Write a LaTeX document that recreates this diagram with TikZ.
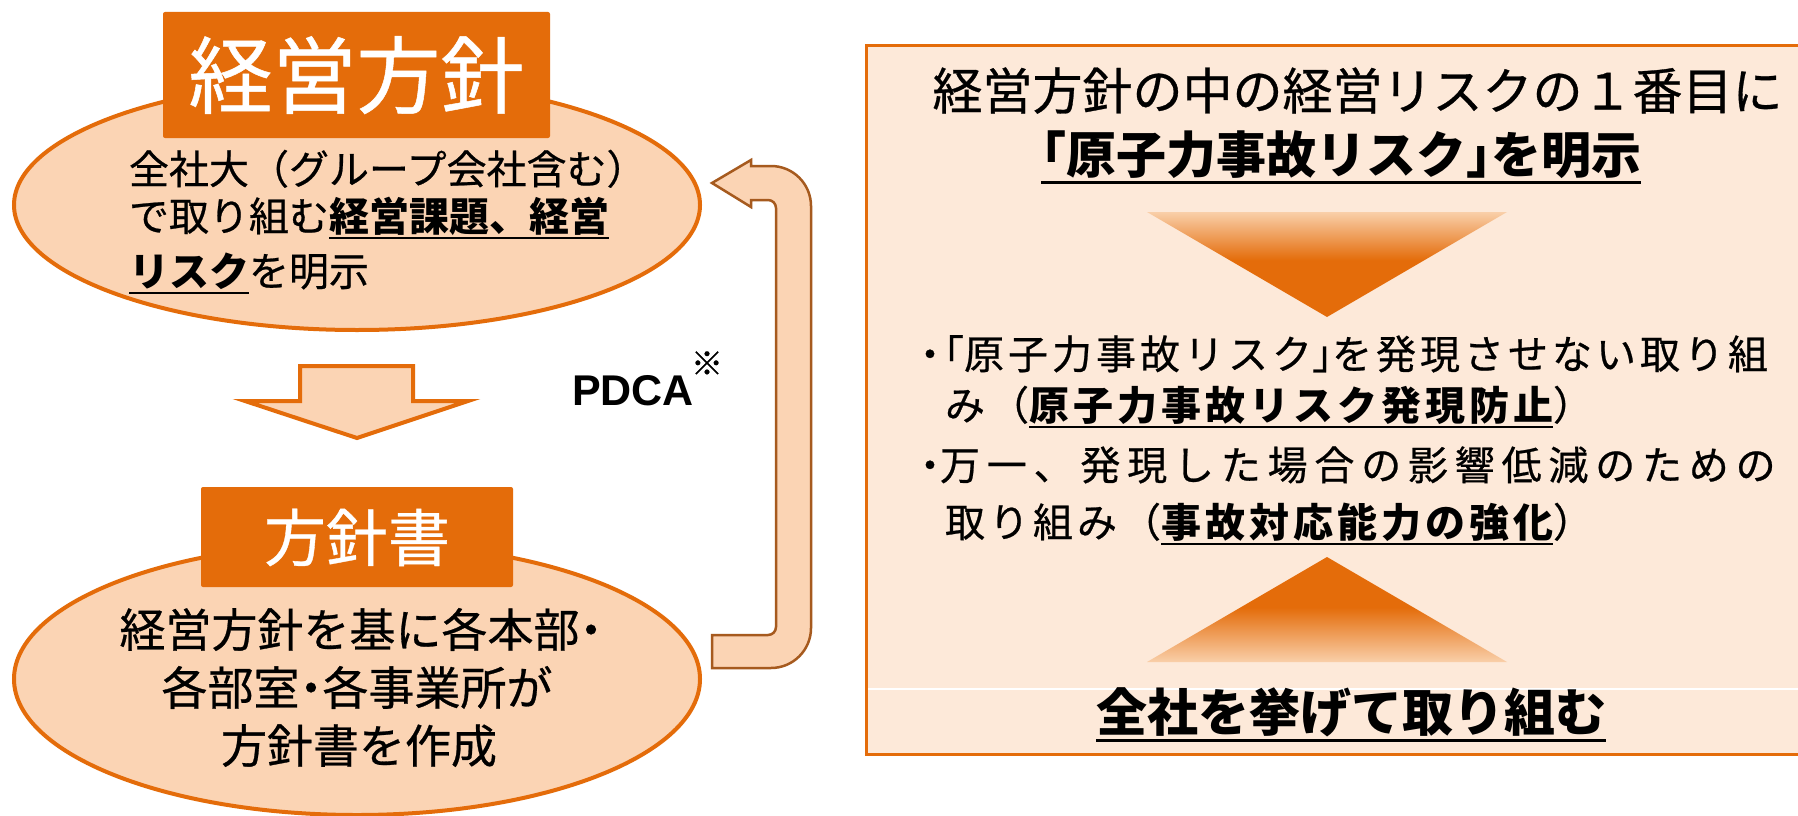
\documentclass[tikz,border=0pt]{standalone}
\usepackage{fontspec}
\usetikzlibrary{shapes.geometric}
\newfontfamily\jp[UprightFeatures={FakeBold=0.6}]{Noto Sans CJK JP}
\newfontfamily\jpls[LetterSpace=10,UprightFeatures={FakeBold=0.6}]{Noto Sans CJK JP}
\newfontfamily\jplsb[LetterSpace=17,UprightFeatures={FakeBold=0.6}]{Noto Sans CJK JP}
\newfontfamily\arialf{Liberation Sans}
\newcommand\fs[1]{\fontsize{#1pt}{#1pt}\selectfont}
\newcommand\hw[1]{{\addfontfeature{CharacterWidth=AlternateHalf}#1}}
\newcommand\ulx[1]{\setbox0=\hbox{#1}\rlap{\rule[-0.21em]{\wd0}{0.07em}}\box0}
\definecolor{orA}{HTML}{E46C0A}
\definecolor{peach}{HTML}{FBD4B4}
\definecolor{panelc}{HTML}{FDE9D9}
\definecolor{brownA}{HTML}{A65A1E}
\definecolor{triL}{HTML}{F9CFA9}
\pgfdeclareverticalshading{tridown}{100bp}{color(0bp)=(orA); color(52bp)=(orA); color(75bp)=(triL); color(100bp)=(triL)}
\pgfdeclareverticalshading{triup}{100bp}{color(0bp)=(triL); color(25bp)=(triL); color(51bp)=(orA); color(100bp)=(orA)}
\tikzset{
  ell/.style={ellipse, draw=orA, line width=4pt, fill=peach, inner sep=0pt},
  titlebox/.style={rectangle, rounded corners=2pt, fill=orA, inner sep=0pt},
  txt/.style={inner sep=0pt, outer sep=0pt, text=black},
  blockarrow/.style={fill=peach, draw=orA, line width=4pt, line join=miter},
  looparrow/.style={fill=peach, draw=brownA, line width=2.5pt, line join=miter},
}
\begin{document}
\begin{tikzpicture}[x=1pt,y=-1pt]
\useasboundingbox (0,0) rectangle (1798,816);
\clip (0,0) rectangle (1798,816);
\fill[white] (0,0) rectangle (1798,816);

% ---------- left column ----------
\node[ell, minimum width=686pt, minimum height=250pt] (e1) at (357,205) {};
\node[titlebox, minimum width=387pt, minimum height=126pt] (t1) at (356.5,75) {};
\node[txt, anchor=base, font=\jp\fs{84}, text=white] (t1txt) at (356.5,107) {経営方針};

\node[txt, anchor=base west, font=\jp\fs{40}] (e1l1) at (129,184) {全社大（グループ会社含む）};
\node[txt, anchor=base west, font=\jp\fs{40}] (e1l2) at (129,231) {で取り組む\ulx{\bfseries 経営課題、経営}};
\node[txt, anchor=base west, font=\jp\fs{40}] (e1l3) at (129,286) {\ulx{\bfseries リスク}を明示};

\draw[blockarrow] (300,366) -- (413,366) -- (413,401) -- (468,401) -- (357,438) -- (245,401) -- (300,401) -- cycle;

\node[ell, minimum width=686pt, minimum height=272pt] (e2) at (357,679) {};
\node[titlebox, minimum width=312pt, minimum height=100pt] (t2) at (357,537) {};
\node[txt, anchor=base, font=\jp\fs{62}, text=white] (t2txt) at (357,561) {方針書};

\node[txt, anchor=base, font=\jp\fs{46}] (e2l1) at (361,647) {経営方針を基に各本部\hw{・}};
\node[txt, anchor=base, font=\jp\fs{46}] (e2l2) at (357,705) {各部室\hw{・}各事業所が};
\node[txt, anchor=base, font=\jp\fs{46}] (e2l3) at (359,763) {方針書を作成};

% ---------- PDCA loop ----------
\draw[looparrow] (712,183) -- (751,160) -- (751,166) -- (771,166)
  .. controls (793.1,166) and (811,183.9) .. (811,206) -- (811,628)
  .. controls (811,650.1) and (793.1,668) .. (771,668) -- (712,668) -- (712,635) -- (768,635)
  .. controls (772.4,635) and (776,631.4) .. (776,627) -- (776,208)
  .. controls (776,203.6) and (772.4,200) .. (768,200) -- (751,200) -- (751,207) -- cycle;
\node[txt, anchor=base west, font=\arialf\bfseries\fs{43}] (pdca) at (572,405) {PDCA};
\node[txt, anchor=base, font=\jp\fs{32}] (note) at (707,375) {※};

% ---------- right panel ----------
\draw[fill=panelc, draw=orA, line width=3.5pt] (866.5,45.5) rectangle (1815,754.5);
\draw[white, line width=1.2pt] (868,689) -- (1798,689);

\node[txt, anchor=base, font=\jp\fs{50}] (p1) at (1357.5,109.5) {経営方針の中の経営リスクの１番目に};
\node[txt, anchor=base, font=\jp\bfseries\fs{50}] (p2) at (1341,173.5) {\ulx{\hw{「}原子力事故リスク\hw{」}を明示}};

\shade[shading=tridown] (1147,212) -- (1507,212) -- (1327,317) -- cycle;

\node[txt, anchor=base west, font=\jpls\fs{40}] (b1) at (920,369) {\hw{・}\hw{「}原子力事故リスク\hw{」}を発現させない取り組};
\node[txt, anchor=base west, font=\jpls\fs{40}] (b2) at (945,420) {み（\ulx{\bfseries 原子力事故リスク発現防止}）};
\node[txt, anchor=base west, font=\jplsb\fs{40}] (b3) at (920,480) {\hw{・}万一、発現した場合の影響低減のための};
\node[txt, anchor=base west, font=\jpls\fs{40}] (b4) at (945,537) {取り組み（\ulx{\bfseries 事故対応能力の強化}）};

\shade[shading=triup] (1327,557) -- (1507,662) -- (1147,662) -- cycle;

\node[txt, anchor=base, font=\jp\bfseries\fs{51}] (p3) at (1351,731.5) {\ulx{全社を挙げて取り組む}};
\end{tikzpicture}
\end{document}
